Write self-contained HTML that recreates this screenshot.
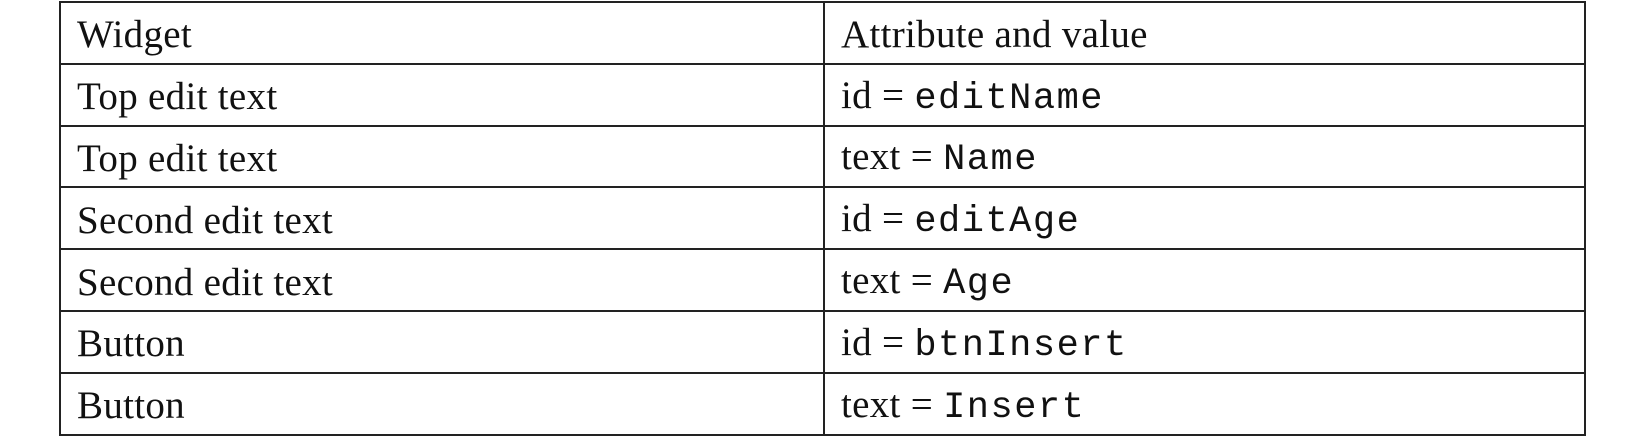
<!DOCTYPE html>
<html><head><style>
html,body{margin:0;padding:0;background:#fff;width:1650px;height:438px;overflow:hidden}
table{position:absolute;left:59px;top:1px;border-collapse:collapse;width:1527px}
td{border:2.5px solid #222;height:59.5px;padding:4px 0 0 16px;box-sizing:border-box;font-family:"Liberation Serif",serif;font-size:39px;letter-spacing:0.3px;color:#111;vertical-align:middle;line-height:1}
tr{height:61.8px}
td:first-child{width:764px}
.m{font-family:"Liberation Mono",monospace;font-size:37px;letter-spacing:1.5px}
</style></head><body>
<table>
<tr><td>Widget</td><td>Attribute and value</td></tr>
<tr><td>Top edit text</td><td>id = <span class="m">editName</span></td></tr>
<tr><td>Top edit text</td><td>text = <span class="m">Name</span></td></tr>
<tr><td>Second edit text</td><td>id = <span class="m">editAge</span></td></tr>
<tr><td>Second edit text</td><td>text = <span class="m">Age</span></td></tr>
<tr><td>Button</td><td>id = <span class="m">btnInsert</span></td></tr>
<tr><td>Button</td><td>text = <span class="m">Insert</span></td></tr>
</table>
</body></html>
